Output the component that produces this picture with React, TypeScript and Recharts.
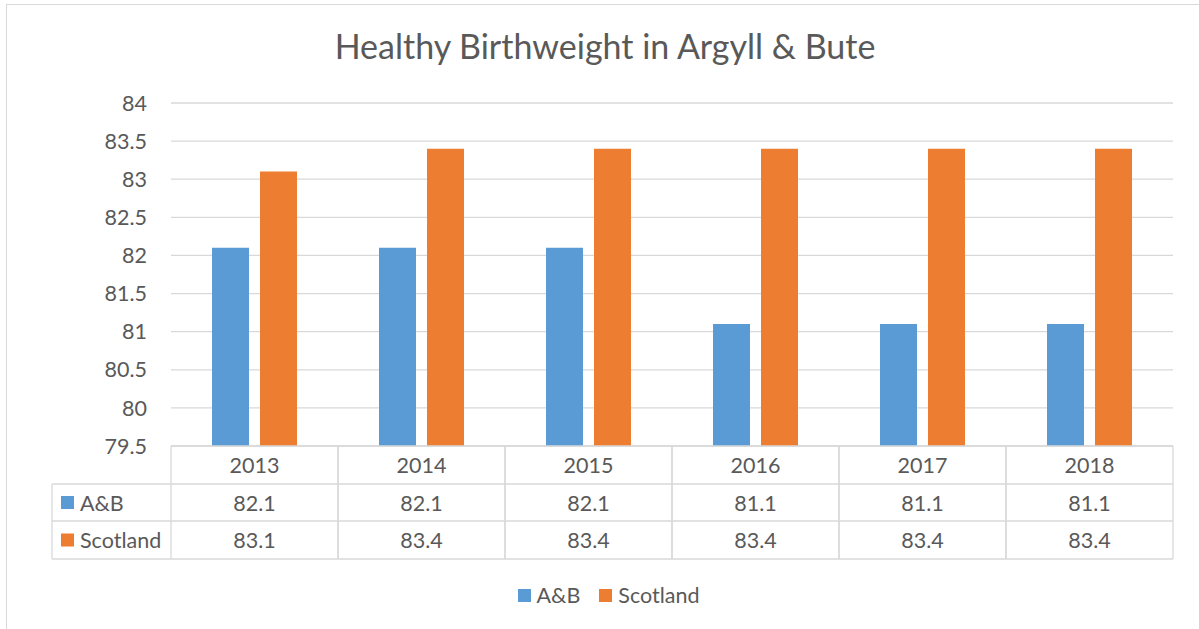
import { BarChart, Bar, XAxis, YAxis, CartesianGrid } from "recharts";

const YEARS = ["2013", "2014", "2015", "2016", "2017", "2018"];
const AB_VALUES = [82.1, 82.1, 82.1, 81.1, 81.1, 81.1];
const SCOTLAND_VALUES = [83.1, 83.4, 83.4, 83.4, 83.4, 83.4];
const Y_TICKS = [79.5, 80, 80.5, 81, 81.5, 82, 82.5, 83, 83.5, 84];

const SERIES = [
    { key: "ab", name: "A&B", color: "#5B9BD5", values: AB_VALUES },
    { key: "scotland", name: "Scotland", color: "#ED7D31", values: SCOTLAND_VALUES },
];

const data = YEARS.map((year, i) => ({
    year,
    ab: AB_VALUES[i],
    scotland: SCOTLAND_VALUES[i],
}));

const FONT = "Lato, 'Noto Sans', sans-serif";
const TEXT = "#595959";
const GRID = "#D9D9D9";
const FS = 21.5;

// table rows under the plot
const ROW_TOP = 446;
const ROW_H = [38, 37, 38];
const HALF = 83.5;
const LEFT_EDGE = 52;

function TableTick(props: any) {
    const { x, payload } = props;
    const i = payload.index;
    const r1 = ROW_TOP + ROW_H[0];
    const r2 = r1 + ROW_H[1];
    const r3 = r2 + ROW_H[2];
    const plotLeft = x - HALF;
    return (
        <g>
            <line x1={x - HALF} y1={ROW_TOP} x2={x - HALF} y2={r3} stroke={GRID} strokeWidth={1.3} />
            <line x1={x + HALF} y1={ROW_TOP} x2={x + HALF} y2={r3} stroke={GRID} strokeWidth={1.3} />
            {[r1, r2, r3].map((yy) => (
                <line key={yy} x1={x - HALF} y1={yy} x2={x + HALF} y2={yy} stroke={GRID} strokeWidth={1.3} />
            ))}
            <text x={x} y={(ROW_TOP + r1) / 2} textAnchor="middle" dominantBaseline="central" fill={TEXT} fontSize={FS} fontFamily={FONT}>
                {payload.value}
            </text>
            {SERIES.map((s, k) => (
                <text
                    key={s.key}
                    x={x}
                    y={k === 0 ? (r1 + r2) / 2 : (r2 + r3) / 2}
                    textAnchor="middle"
                    dominantBaseline="central"
                    fill={TEXT}
                    fontSize={FS}
                    fontFamily={FONT}
                >
                    {s.values[i].toFixed(1)}
                </text>
            ))}
            {i === 0 && (
                <g>
                    <line x1={LEFT_EDGE} y1={r1} x2={LEFT_EDGE} y2={r3} stroke={GRID} strokeWidth={1.3} />
                    {[r1, r2, r3].map((yy) => (
                        <line key={yy} x1={LEFT_EDGE} y1={yy} x2={plotLeft} y2={yy} stroke={GRID} strokeWidth={1.3} />
                    ))}
                    {SERIES.map((s, k) => {
                        const cy = k === 0 ? (r1 + r2) / 2 : (r2 + r3) / 2;
                        return (
                            <g key={s.key}>
                                <rect x={61} y={cy - 6.5} width={13} height={13} fill={s.color} />
                                <text x={80} y={cy} dominantBaseline="central" fill={TEXT} fontSize={FS} fontFamily={FONT}>
                                    {s.name}
                                </text>
                            </g>
                        );
                    })}
                </g>
            )}
        </g>
    );
}

export default function App() {
    return (
        <div style={{ position: "absolute", left: 0, top: 0, width: 1199, height: 629, overflow: "hidden", background: "#fff" }}>
            <div style={{ position: "absolute", left: 6, top: 4, width: 1300, height: 700, border: `1px solid ${GRID}` }} />
            <div
                style={{
                    position: "absolute",
                    left: 0,
                    top: 25,
                    width: 1210,
                    textAlign: "center",
                    fontFamily: FONT,
                    fontSize: 34,
                    color: TEXT,
                }}
            >
                Healthy Birthweight in Argyll &amp; Bute
            </div>
            <div style={{ position: "absolute", left: 0, top: 0 }}>
                <BarChart
                    width={1199}
                    height={629}
                    data={data}
                    margin={{ top: 103, right: 26, left: 0, bottom: 0 }}
                    barGap={11}
                >
                    <CartesianGrid vertical={false} stroke={GRID} strokeWidth={1.3} />
                    <YAxis
                        type="number"
                        domain={[79.5, 84]}
                        ticks={Y_TICKS}
                        width={171}
                        axisLine={false}
                        tickLine={false}
                        tickMargin={18}
                        tick={{ fill: TEXT, fontSize: FS, fontFamily: FONT }}
                        interval={0}
                    />
                    <XAxis
                        dataKey="year"
                        height={183}
                        axisLine={{ stroke: GRID, strokeWidth: 1.3 }}
                        tickLine={false}
                        tick={<TableTick />}
                        interval={0}
                    />
                    {SERIES.map((s) => (
                        <Bar key={s.key} dataKey={s.key} name={s.name} fill={s.color} barSize={37} isAnimationActive={false} />
                    ))}
                </BarChart>
            </div>
            <div
                style={{
                    position: "absolute",
                    left: 0,
                    top: 582,
                    width: 1236,
                    display: "flex",
                    justifyContent: "center",
                    fontFamily: FONT,
                    fontSize: FS,
                    color: TEXT,
                }}
            >
                {SERIES.map((s) => (
                    <div key={s.key} style={{ display: "flex", alignItems: "center", marginRight: 19 }}>
                        <span style={{ width: 13, height: 13, background: s.color, marginRight: 6, display: "inline-block" }} />
                        <span>{s.name}</span>
                    </div>
                ))}
            </div>
        </div>
    );
}
